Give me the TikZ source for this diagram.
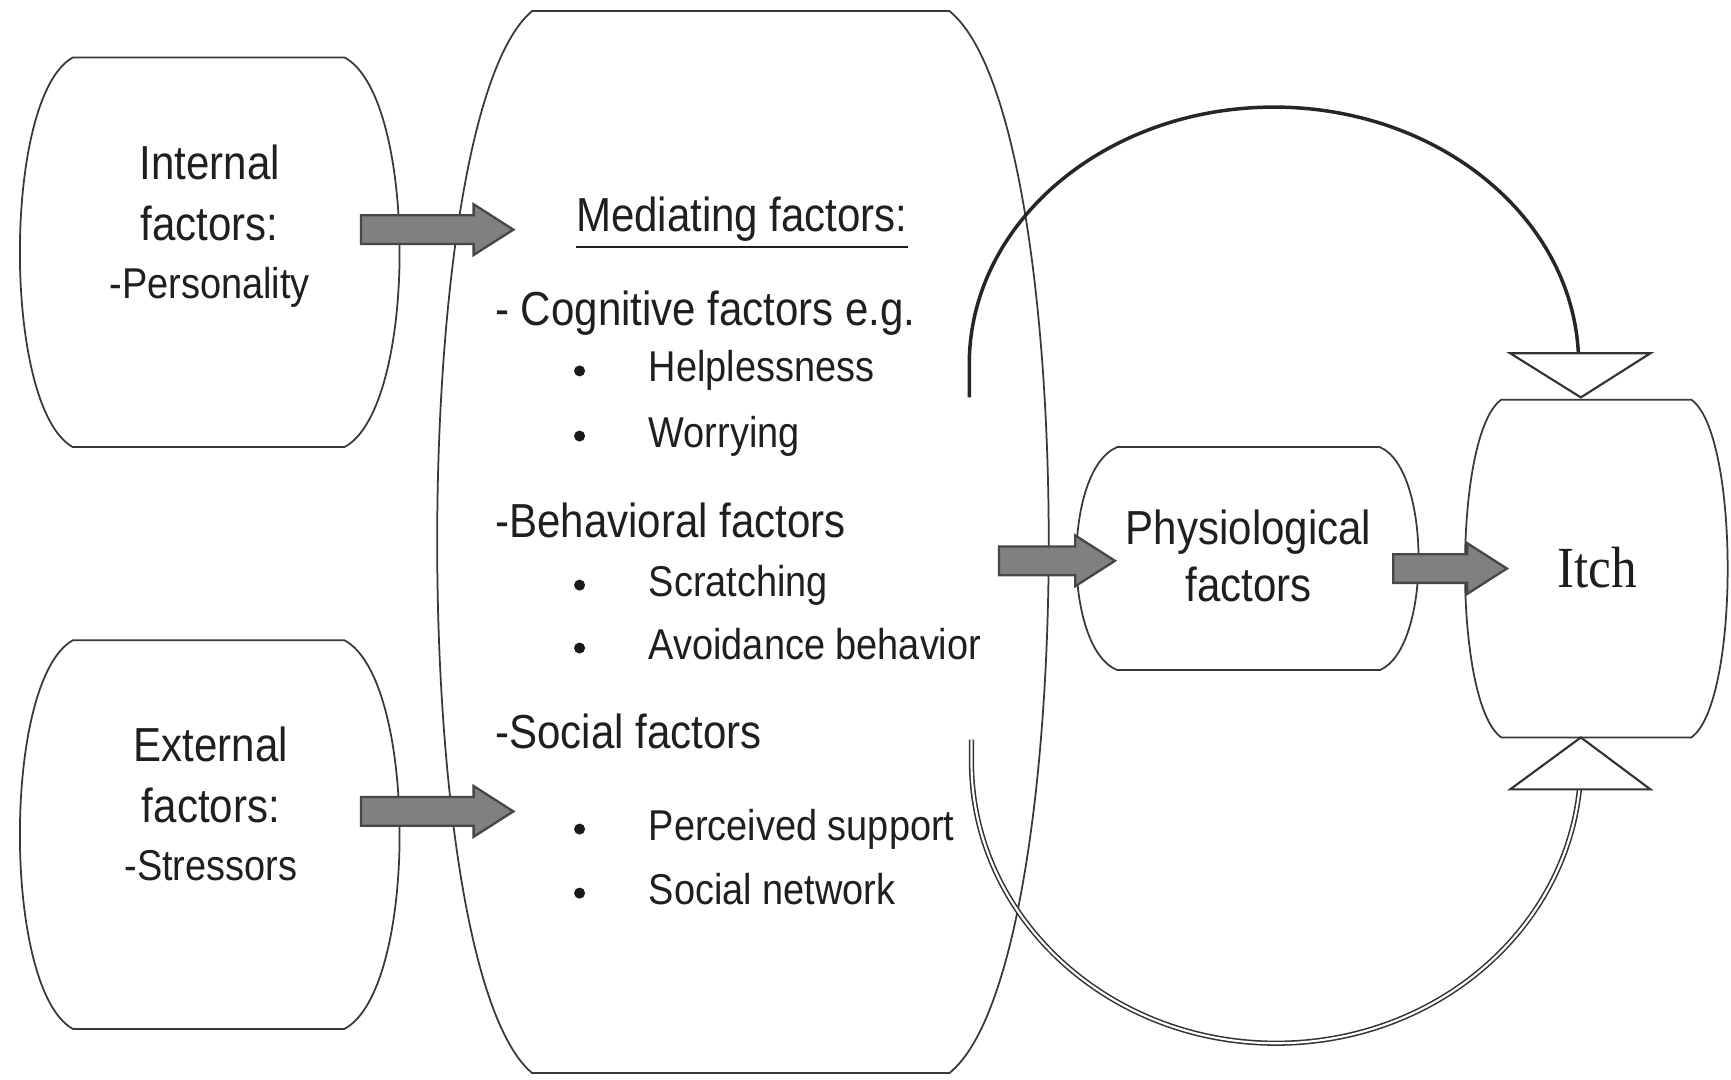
\documentclass[tikz,border=0pt]{standalone}
\usepackage{fontspec}
\setmainfont{Liberation Sans}[FakeStretch=0.88]
\newfontfamily\itchfont{Liberation Serif}[FakeStretch=0.88]
\usetikzlibrary{calc}
% #1 name, #2 xl, #3 xr, #4 ytop, #5 ybottom, #6 left sag, #7 right sag
\newcommand\barrelbox[7]{%
  \draw[boxline] (#2,#4) -- (#3,#4)
    .. controls ({#3+1.333*#7},{#4+(#5-#4)/10}) and ({#3+1.333*#7},{#5-(#5-#4)/10}) .. (#3,#5)
    -- (#2,#5)
    .. controls ({#2-1.333*#6},{#5-(#5-#4)/10}) and ({#2-1.333*#6},{#4+(#5-#4)/10}) .. cycle;
  \coordinate (#1) at ({(#2+#3)/2},{(#4+#5)/2});}
\newcommand\blockarrow[2]{%
  \filldraw[blk] ($(#1)+(0,-13)$) -- ($(#2)+(-36,-13)$) -- ($(#2)+(-36,-23)$) -- (#2)
    -- ($(#2)+(-36,23)$) -- ($(#2)+(-36,13)$) -- ($(#1)+(0,13)$) -- cycle;}
\begin{document}
\begin{tikzpicture}[x=0.01cm,y=-0.01cm,
  boxline/.style={draw=black!78, line width=0.45pt},
  blk/.style={fill=black!50, draw=black!72, line width=0.6pt},
  arcline/.style={draw=black!85, line width=0.9pt},
  arcdouble/.style={draw=black!80, line width=0.4pt, double=white, double distance=0.55pt},
  tri/.style={draw=black!80, fill=white, line width=0.55pt},
  hdr/.style={font=\fontsize{12.3}{14}\selectfont, inner sep=0pt, text=black!88},
  itm/.style={font=\fontsize{11.1}{13}\selectfont, inner sep=0pt, text=black!88},
  dot/.style={circle, fill=black!90, inner sep=0pt, minimum size=0.1cm}]
\fill[white] (0,0) rectangle (1568,978);
\useasboundingbox (0,0) rectangle (1568,978);

% boxes
\barrelbox{int}{66}{312}{52}{405}{48}{50}
\barrelbox{ext}{66}{312}{580}{932}{48}{50}
\barrelbox{med}{482}{860}{10}{972}{86}{90}
\barrelbox{phy}{1012}{1250}{405}{607}{37}{35}
\barrelbox{itc}{1360}{1532}{362}{668}{33}{33}

% feedback arcs
\coordinate (topS) at (878,360);
\coordinate (topE) at (1430,330);
\coordinate (botS) at (880,670);
\coordinate (botE) at (1432,690);
\draw[arcline] (topS) -- (878,330) .. controls (878,201) and (1002,97) .. (1154,97)
  .. controls (1306,97) and (1430,201) .. (topE);
\draw[arcdouble] (botS) -- (880,690) .. controls (880,831) and (1004,945) .. (1156,945)
  .. controls (1308,945) and (1432,831) .. (botE);
\draw[tri] (1368,320) -- (1495,320) -- (1432,360) -- cycle;
\draw[tri] (1368,715) -- (1495,715) -- (1432,668) -- cycle;

% block arrows
\coordinate (a1s) at (327,208); \coordinate (a1e) at (465,208);
\coordinate (a2s) at (327,735); \coordinate (a2e) at (465,735);
\coordinate (a3s) at (905,508); \coordinate (a3e) at (1010,508);
\coordinate (a4s) at (1262,515); \coordinate (a4e) at (1365,515);
\blockarrow{a1s}{a1e}
\blockarrow{a2s}{a2e}
\blockarrow{a3s}{a3e}
\blockarrow{a4s}{a4e}

% texts: internal / external
\node[hdr, anchor=base] (i1) at (190,163) {Internal};
\node[hdr, anchor=base] (i2) at (190,218) {factors:};
\node[itm, anchor=base] (i3) at (190,270) {-Personality};
\node[hdr, anchor=base] (e1) at (191,690) {External};
\node[hdr, anchor=base] (e2) at (191,745) {factors:};
\node[itm, anchor=base] (e3) at (191,798) {-Stressors};

% mediating
\node[hdr, anchor=base] (m0) at (672,210) {\underline{Mediating factors:}};
\node[hdr, anchor=base west] (m1) at (448,295) {- Cognitive factors e.g.};
\node[dot] (b1) at (525,336) {};
\node[itm, anchor=base west] (m11) at (587,346) {Helplessness};
\node[dot] (b2) at (525,395) {};
\node[itm, anchor=base west] (m12) at (587,405) {Worrying};
\node[hdr, anchor=base west] (m2) at (448,487) {-Behavioral factors};
\node[dot] (b3) at (525,530) {};
\node[itm, anchor=base west] (m21) at (587,540) {Scratching};
\node[dot] (b4) at (525,587) {};
\node[itm, anchor=base west] (m22) at (587,597) {Avoidance behavior};
\node[hdr, anchor=base west] (m3) at (448,678) {-Social factors};
\node[dot] (b5) at (525,751) {};
\node[itm, anchor=base west] (m31) at (587,761) {Perceived support};
\node[dot] (b6) at (525,809) {};
\node[itm, anchor=base west] (m32) at (587,819) {Social network};

% physiological / itch
\node[hdr, anchor=base] (p1) at (1131,493) {Physiological};
\node[hdr, anchor=base] (p2) at (1131,545) {factors};
\node[inner sep=0pt, text=black!88, anchor=base, font=\itchfont\fontsize{15}{17}\selectfont] (it) at (1447,532) {Itch};
\end{tikzpicture}
\end{document}
